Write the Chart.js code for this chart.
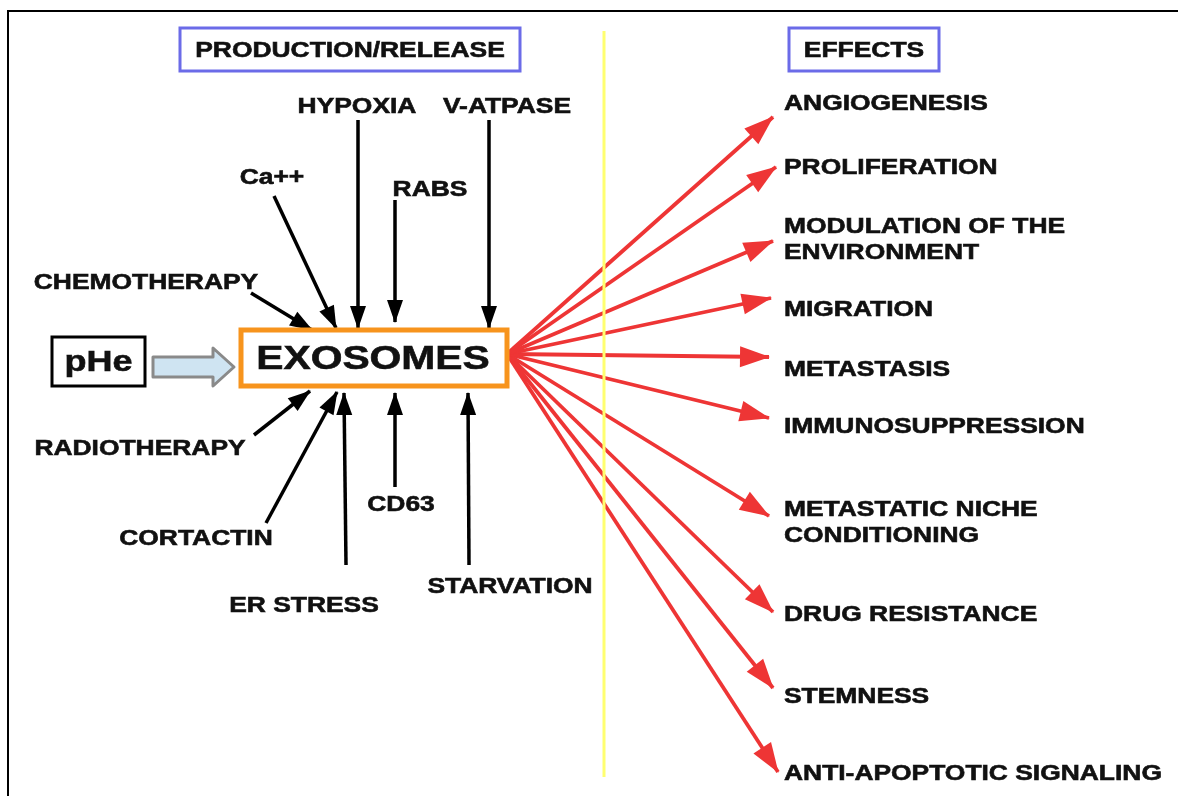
<!DOCTYPE html>
<html>
<head>
<meta charset="utf-8">
<script src="https://cdn.jsdelivr.net/npm/chart.js@4/dist/chart.umd.min.js"></script>
<style>
  html, body { margin: 0; padding: 0; background: #fff; }
  #diagram { display: block; }
</style>
</head>
<body>
<canvas id="diagram" width="1178" height="796"></canvas>
<script>
// factors acting on exosome production / release
const causeLabels = ['HYPOXIA', 'V-ATPASE', 'Ca++', 'RABS', 'CHEMOTHERAPY',
                     'RADIOTHERAPY', 'CORTACTIN', 'ER STRESS', 'CD63', 'STARVATION'];
const causeLabelX = [357, 507, 272, 430, 146, 140, 196, 304, 401, 510];
const causeLabelY = [105, 105, 176, 188, 281, 447, 537, 604, 503, 585];
const causeFromX = [358, 489, 274, 395, 251, 254, 266, 346, 395, 469];
const causeFromY = [120, 120, 196, 200, 293, 435, 523, 565, 487, 565];
const causeToX = [358, 489, 336, 395, 312, 310, 337, 344, 395, 468];
const causeToY = [328, 328, 328, 322, 330, 391, 392, 393, 393, 393];

// effects of exosomes
const effectLabels = [['ANGIOGENESIS'], ['PROLIFERATION'], ['MODULATION OF THE', 'ENVIRONMENT'],
                      ['MIGRATION'], ['METASTASIS'], ['IMMUNOSUPPRESSION'],
                      ['METASTATIC NICHE', 'CONDITIONING'], ['DRUG RESISTANCE'],
                      ['STEMNESS'], ['ANTI-APOPTOTIC SIGNALING']];
const effectLabelY = [102, 166, 225, 308, 368, 425, 508, 613, 695, 772];
const effectTipX = [773, 776, 773, 771, 769, 769, 769, 773, 773, 778];
const effectTipY = [117, 167, 241, 298, 357, 418, 516, 612, 688, 772];
const hub = { x: 507, y: 354 };

const headers = ['PRODUCTION/RELEASE', 'EFFECTS'];

// layout (in the same 0..1178 / 0..796 units as the scales)
const L = {
  headerBoxes: [[180, 28, 520, 71], [789, 28, 939, 71]],
  exoBox: [241, 330, 507, 386],
  pheBox: [52, 337, 145, 386],
  divider: [604, 31, 777],
  effectX: 784,
  stretch: 1.2,
  textDy: 1.5
};

const datasets = [];
causeLabels.forEach((lab, i) => {
  datasets.push({
    type: 'line', label: lab,
    data: [{ x: causeFromX[i], y: causeFromY[i] }, { x: causeToX[i], y: causeToY[i] }],
    borderColor: '#000', borderWidth: 3.5, pointRadius: 0
  });
});
effectLabels.forEach((lab, i) => {
  datasets.push({
    type: 'line', label: lab.join(' '),
    data: [{ x: hub.x, y: hub.y }, { x: effectTipX[i], y: effectTipY[i] }],
    borderColor: '#ee3535', borderWidth: 3.8, pointRadius: 0
  });
});

function txt(ctx, s, x, y, size, align) {
  ctx.save();
  ctx.translate(x, y + L.textDy);
  ctx.scale(L.stretch, 1);
  ctx.font = 'bold ' + size + 'px "Liberation Sans", Arial, sans-serif';
  ctx.textAlign = align;
  ctx.textBaseline = 'middle';
  ctx.fillStyle = '#111';
  ctx.strokeStyle = '#111';
  ctx.lineWidth = 0.6;
  ctx.fillText(s, 0, 0);
  ctx.strokeText(s, 0, 0);
  ctx.restore();
}

function head(ctx, x0, y0, x1, y1, len, w, color) {
  const a = Math.atan2(y1 - y0, x1 - x0);
  ctx.save();
  ctx.translate(x1, y1);
  ctx.rotate(a);
  ctx.beginPath();
  ctx.moveTo(1, 0);
  ctx.lineTo(-len, -w / 2);
  ctx.lineTo(-len, w / 2);
  ctx.closePath();
  ctx.fillStyle = color;
  ctx.fill();
  ctx.restore();
}

const diagramPlugin = {
  id: 'diagram',
  afterDatasetsDraw(chart) {
    const ctx = chart.ctx;
    const X = v => chart.scales.x.getPixelForValue(v);
    const Y = v => chart.scales.y.getPixelForValue(v);

    // yellow divider
    ctx.save();
    ctx.strokeStyle = '#ffff70';
    ctx.lineWidth = 3;
    ctx.beginPath();
    ctx.moveTo(X(L.divider[0]), Y(L.divider[1]));
    ctx.lineTo(X(L.divider[0]), Y(L.divider[2]));
    ctx.stroke();
    ctx.restore();

    // arrow heads and labels
    causeLabels.forEach((lab, i) => {
      head(ctx, X(causeFromX[i]), Y(causeFromY[i]), X(causeToX[i]), Y(causeToY[i]), 22, 16, '#000');
      txt(ctx, lab, X(causeLabelX[i]), Y(causeLabelY[i]), 22, 'center');
    });
    effectLabels.forEach((lines, i) => {
      head(ctx, X(hub.x), Y(hub.y), X(effectTipX[i]), Y(effectTipY[i]), 29, 21, '#ee3535');
      lines.forEach((s, j) => {
        txt(ctx, s, X(L.effectX), Y(effectLabelY[i] + j * 26), 22, 'left');
      });
    });

    // header boxes
    headers.forEach((h, i) => {
      const b = L.headerBoxes[i];
      ctx.save();
      ctx.strokeStyle = '#6b6be8';
      ctx.lineWidth = 3;
      ctx.strokeRect(X(b[0]), Y(b[1]), X(b[2]) - X(b[0]), Y(b[3]) - Y(b[1]));
      ctx.restore();
      txt(ctx, h, X((b[0] + b[2]) / 2), Y((b[1] + b[3]) / 2), 22, 'center');
    });

    // EXOSOMES box
    let b = L.exoBox;
    ctx.save();
    ctx.fillStyle = '#fff';
    ctx.fillRect(X(b[0]), Y(b[1]), X(b[2]) - X(b[0]), Y(b[3]) - Y(b[1]));
    ctx.strokeStyle = '#f7941d';
    ctx.lineWidth = 5;
    ctx.strokeRect(X(b[0]), Y(b[1]), X(b[2]) - X(b[0]), Y(b[3]) - Y(b[1]));
    ctx.restore();
    txt(ctx, 'EXOSOMES', X((b[0] + b[2]) / 2 - 1), Y(358), 34, 'center');

    // pHe box
    b = L.pheBox;
    ctx.save();
    ctx.strokeStyle = '#000';
    ctx.lineWidth = 3;
    ctx.strokeRect(X(b[0]), Y(b[1]), X(b[2]) - X(b[0]), Y(b[3]) - Y(b[1]));
    ctx.restore();
    txt(ctx, 'pHe', X((b[0] + b[2]) / 2), Y(361), 30, 'center');

    // block arrow pHe -> EXOSOMES
    const pts = [[153, 357], [213, 357], [213, 348], [234, 367], [213, 386], [213, 377], [153, 377]];
    ctx.save();
    ctx.beginPath();
    pts.forEach((p, k) => k ? ctx.lineTo(X(p[0]), Y(p[1])) : ctx.moveTo(X(p[0]), Y(p[1])));
    ctx.closePath();
    ctx.fillStyle = '#cfe4f2';
    ctx.fill();
    ctx.strokeStyle = '#8a8a8a';
    ctx.lineWidth = 3;
    ctx.lineJoin = 'round';
    ctx.stroke();
    ctx.restore();

    // outer frame (top and left edges visible)
    ctx.save();
    ctx.strokeStyle = '#000';
    ctx.lineWidth = 2;
    ctx.beginPath();
    ctx.moveTo(X(8), Y(800));
    ctx.lineTo(X(8), Y(11));
    ctx.lineTo(X(1178), Y(11));
    ctx.stroke();
    ctx.restore();
  }
};

new Chart(document.getElementById('diagram').getContext('2d'), {
  type: 'scatter',
  data: { datasets: datasets },
  options: {
    responsive: false,
    animation: false,
    layout: { padding: 0 },
    plugins: { legend: { display: false }, tooltip: { enabled: false } },
    scales: {
      x: { type: 'linear', min: 0, max: 1178, display: false },
      y: { type: 'linear', min: 0, max: 796, reverse: true, display: false }
    }
  },
  plugins: [diagramPlugin]
});
</script>
</body>
</html>
